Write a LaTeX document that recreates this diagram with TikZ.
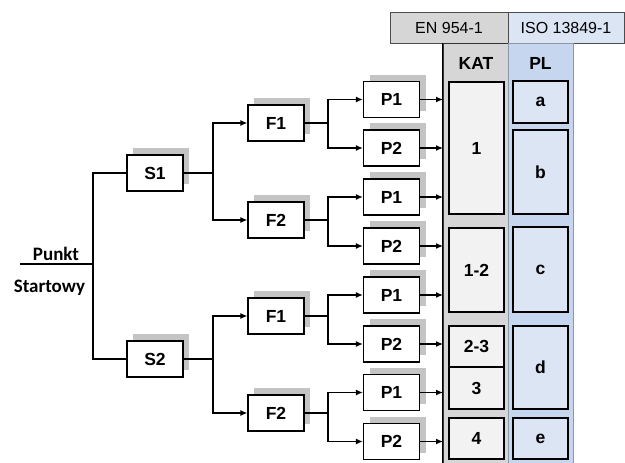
\documentclass[tikz,border=0pt]{standalone}
\usepackage{fontspec}
\setmainfont{Liberation Sans}
\newfontfamily\calibfont{Carlito}
\usetikzlibrary{arrows.meta,shadows}
\definecolor{katgray}{RGB}{214,214,214}
\definecolor{katcell}{RGB}{242,242,242}
\definecolor{plblue}{RGB}{198,214,238}
\definecolor{plcell}{RGB}{219,229,244}
\definecolor{shadowgray}{RGB}{196,196,196}
\tikzset{
	blok/.style={draw, line width=1.3pt, fill=white, minimum width=56pt, minimum height=36pt, inner sep=0pt, font=\fontsize{17.5}{17.5}\selectfont\bfseries, drop shadow={shadow xshift=6pt, shadow yshift=7pt, fill=shadowgray, opacity=1}},
	pol/.style={line width=1.2pt, -{Latex[length=7pt,width=6pt]}},
	lin/.style={line width=1.2pt},
	katbox/.style={draw, line width=1.3pt, fill=katcell, minimum width=55pt, inner sep=0pt, font=\fontsize{17.5}{17.5}\selectfont\bfseries},
	plbox/.style={draw, line width=1.3pt, fill=plcell, minimum width=55pt, inner sep=0pt, font=\fontsize{17.5}{17.5}\selectfont\bfseries},
	naglowek/.style={draw=black!70, line width=0.8pt, minimum height=31pt, inner sep=0pt, font=\fontsize{16}{16}\selectfont}
}

\begin{document}
\begin{tikzpicture}[x=1pt, y=-1pt]
			\useasboundingbox (0,0) rectangle (625,463);
			\node[naglowek, fill=katgray, minimum width=118pt] (en) at (449,27.5) {EN 954-1};
			\node[naglowek, fill=plcell, minimum width=116pt] (iso) at (566,27.5) {ISO 13849-1};
			\node[draw=black!80, line width=1pt, fill=katgray, minimum width=65pt, minimum height=427pt, inner sep=0pt] (katcol) at (475.5,256.5) {};
			\node[draw=plblue!70!black, line width=0.8pt, fill=plblue, minimum width=65pt, minimum height=427pt, inner sep=0pt] (plcol) at (540.5,256.5) {};
			\draw[line width=1.3pt] (katcol.north west) -- (katcol.south west);
			\node[font=\fontsize{17.5}{17.5}\selectfont\bfseries] (kat) at (476,63) {KAT};
			\node[font=\fontsize{17.5}{17.5}\selectfont\bfseries] (pl) at (540.5,63) {PL};
			\node[katbox, minimum height=132pt] (kat1) at (476.5,148) {1};
			\node[katbox, minimum height=84pt] (kat12) at (476.5,270) {1-2};
			\node[katbox, minimum height=41pt] (kat23) at (476.5,346.5) {2-3};
			\node[katbox, minimum height=42pt] (kat3) at (476.5,388) {3};
			\node[katbox, minimum height=41pt] (kat4) at (476.5,438.5) {4};
			\node[plbox, minimum height=42pt] (pla) at (540.5,102) {a};
			\node[plbox, minimum height=84pt] (plb) at (540.5,172) {b};
			\node[plbox, minimum height=85pt] (plc) at (540.5,269.5) {c};
			\node[plbox, minimum height=83pt] (pld) at (540.5,367.5) {d};
			\node[plbox, minimum height=41pt] (ple) at (540.5,438.5) {e};
			\coordinate (start) at (20,264);
			\coordinate (js) at (93,264);
			\coordinate (jf) at (213,0);
			\coordinate (jp) at (328,0);
			\coordinate (kl) at (443,0);
			\node[font=\calibfont\fontsize{19}{19}\selectfont\bfseries, anchor=base] (punkt) at (56,260) {Punkt};
			\node[font=\calibfont\fontsize{19}{19}\selectfont\bfseries, anchor=base] (startowy) at (49.5,292) {Startowy};
			\node[blok] (s1) at (155,173) {S1};
			\node[blok] (s2) at (155,359) {S2};
			\node[blok] (fa1) at (276,123) {F1};
			\node[blok] (fa2) at (276,220) {F2};
			\node[blok] (fb1) at (276,316) {F1};
			\node[blok] (fb2) at (276,413) {F2};
			\node[blok] (p1) at (391.5,99.5) {P1};
			\node[blok] (p2) at (391.5,148) {P2};
			\node[blok] (p3) at (391.5,197) {P1};
			\node[blok] (p4) at (391.5,246) {P2};
			\node[blok] (p5) at (391.5,295) {P1};
			\node[blok] (p6) at (391.5,344) {P2};
			\node[blok] (p7) at (391.5,392.5) {P1};
			\node[blok] (p8) at (391.5,441.5) {P2};
			\draw[lin] (start) -- (js);
			\draw[lin] (s1.west) -| (js) |- (s2.west);
			\draw[pol] (s1.east) -- (s1.east -| jf) |- (fa1.west);
			\draw[pol] (s1.east -| jf) |- (fa2.west);
			\draw[pol] (s2.east) -- (s2.east -| jf) |- (fb1.west);
			\draw[pol] (s2.east -| jf) |- (fb2.west);
			\draw[pol] (fa1.east) -- (fa1.east -| jp) |- (p1.west);
			\draw[pol] (fa1.east -| jp) |- (p2.west);
			\draw[pol] (fa2.east) -- (fa2.east -| jp) |- (p3.west);
			\draw[pol] (fa2.east -| jp) |- (p4.west);
			\draw[pol] (fb1.east) -- (fb1.east -| jp) |- (p5.west);
			\draw[pol] (fb1.east -| jp) |- (p6.west);
			\draw[pol] (fb2.east) -- (fb2.east -| jp) |- (p7.west);
			\draw[pol] (fb2.east -| jp) |- (p8.west);
			\draw[pol] (p1.east) -- (p1.east -| kl);
			\draw[pol] (p2.east) -- (p2.east -| kl);
			\draw[pol] (p3.east) -- (p3.east -| kl);
			\draw[pol] (p4.east) -- (p4.east -| kl);
			\draw[pol] (p5.east) -- (p5.east -| kl);
			\draw[pol] (p6.east) -- (p6.east -| kl);
			\draw[pol] (p7.east) -- (p7.east -| kl);
			\draw[pol] (p8.east) -- (p8.east -| kl);
\end{tikzpicture}
\end{document}
